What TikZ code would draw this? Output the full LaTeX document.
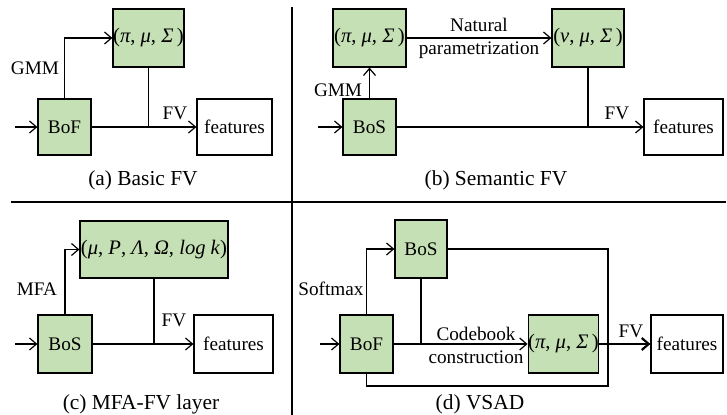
\documentclass[tikz,border=0pt]{standalone}
\usepackage{fontspec}
\setmainfont{Liberation Serif}
\usetikzlibrary{arrows.meta}
\definecolor{boxgreen}{RGB}{197,224,180}
\newcommand{\mi}[1]{\textit{#1}}
\begin{document}
\begin{tikzpicture}[x=0.5pt,y=-0.5pt,
  every node/.style={font=\fontsize{9.6}{11}\selectfont, inner sep=0pt},
  gbox/.style={draw, fill=boxgreen, line width=0.6pt},
  wbox/.style={draw, fill=white, line width=0.6pt},
  mathtxt/.style={font=\fontsize{10.3}{12}\selectfont},
  conn/.style={line width=0.6pt},
  arr/.style={conn, -{Straight Barb[length=3.5pt,width=6pt]}},
  captxt/.style={font=\fontsize{10.7}{12}\selectfont}]
\useasboundingbox (0,0) rectangle (727,415);

% dividers
\draw[conn] (292,7) -- (292,415);
\draw[conn] (11,202) -- (726,202);

% ---------- (a) ----------
\node[gbox, minimum width=26.5pt, minimum height=28pt] (BoFa) at (64.5,127) {BoF};
\node[gbox, mathtxt, minimum width=35.5pt, minimum height=29pt] (pia) at (148.5,38) {(\mi{π}, \mi{μ}, \mi{Σ}\,)};
\node[wbox, minimum width=37.5pt, minimum height=28pt] (feata) at (234.5,127) {features};
\coordinate (ina) at (15,127);
\draw[arr] (ina) -- (BoFa.west);
\draw[arr] (BoFa.north) |- (pia.west);
\draw[arr] (BoFa.east) -- (feata.west);
\draw[conn] (pia.south) -- (pia.south |- BoFa.east);
\node (gmma) at (35,68) {GMM};
\node (fva) at (175,113) {FV};
\node[captxt] (capa) at (143,180) {(a) Basic FV};

% ---------- (b) ----------
\node[gbox, minimum width=26.5pt, minimum height=28pt] (BoSb) at (369.5,127) {BoS};
\node[gbox, mathtxt, minimum width=36.5pt, minimum height=29pt] (pib) at (369.5,38) {(\mi{π}, \mi{μ}, \mi{Σ}\,)};
\node[gbox, mathtxt, minimum width=36pt, minimum height=29pt] (nub) at (588,38) {(\mi{ν}, \mi{μ}, \mi{Σ}\,)};
\node[wbox, minimum width=39.5pt, minimum height=28pt] (featb) at (683.5,127) {features};
\coordinate (inb) at (318,127);
\draw[arr] (inb) -- (BoSb.west);
\draw[arr] (BoSb.north) -- (pib.south);
\draw[arr] (pib.east) -- (nub.west);
\draw[arr] (BoSb.east) -- (featb.west);
\draw[conn] (nub.south) -- (nub.south |- BoSb.east);
\node (gmmb) at (338,90) {GMM};
\node (natb) at (479,25) {Natural};
\node (parb) at (479,50) {parametrization};
\node (fvb) at (617,113) {FV};
\node[captxt] (capb) at (496,180) {(b) Semantic FV};

% ---------- (c) ----------
\node[gbox, minimum width=27pt, minimum height=29pt] (BoSc) at (65,344) {BoS};
\node[gbox, mathtxt, minimum width=74pt, minimum height=28.5pt] (parc) at (154,249.5) {(\mi{μ}, \mi{P}, \mi{Λ}, \mi{Ω}, \mi{log k})};
\node[wbox, minimum width=39.5pt, minimum height=29pt] (featc) at (233.5,344) {features};
\coordinate (inc) at (15,344);
\draw[arr] (inc) -- (BoSc.west);
\draw[arr] (BoSc.north) |- (parc.west);
\draw[arr] (BoSc.east) -- (featc.west);
\draw[conn] (parc.south) -- (parc.south |- BoSc.east);
\node (mfac) at (37,289) {MFA};
\node (fvc) at (174,320) {FV};
\node[captxt] (capc) at (141,404) {(c) MFA-FV layer};

% ---------- (d) ----------
\node[gbox, minimum width=26.5pt, minimum height=29pt] (BoFd) at (366.5,344) {BoF};
\node[gbox, minimum width=26pt, minimum height=29pt] (BoSd) at (421,249) {BoS};
\node[gbox, mathtxt, minimum width=34.5pt, minimum height=29pt] (pid) at (563.5,344) {(\mi{π}, \mi{μ}, \mi{Σ}\,)};
\node[wbox, minimum width=36pt, minimum height=29pt] (featd) at (687,344) {features};
\coordinate (ind) at (320,344);
\coordinate (loopr) at (608,386);
\draw[arr] (ind) -- (BoFd.west);
\draw[arr] (BoFd.north) |- (BoSd.west);
\draw[arr] (BoFd.east) -- (pid.west);
\draw[conn] (BoSd.south) -- (BoSd.south |- BoFd.east);
\draw[conn] (BoSd.east) -| (loopr) -| (BoFd.south);
\draw[line width=1.1pt, -{Straight Barb[length=3.5pt,width=6pt]}] (pid.east) -- (featd.west);
\node (smd) at (331,289) {Softmax};
\node (cbd) at (476,334) {Codebook};
\node (csd) at (476,357) {construction};
\node (fvd) at (631,331) {FV};
\node[captxt] (capd) at (480,404) {(d) VSAD};
\end{tikzpicture}
\end{document}
